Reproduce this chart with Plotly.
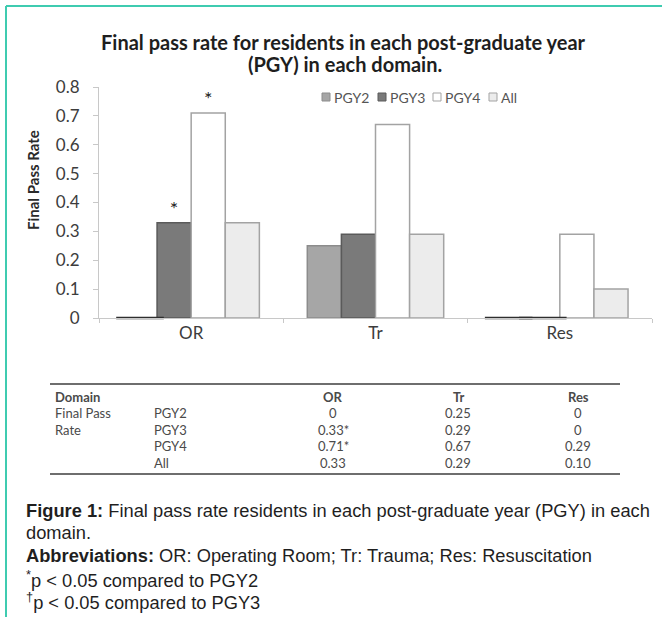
import plotly.graph_objects as go

W, H = 662, 617

# ---- data -------------------------------------------------------------
domains = ["OR", "Tr", "Res"]
series = ["PGY2", "PGY3", "PGY4", "All"]
pgy2 = [0.0, 0.25, 0.0]
pgy3 = [0.33, 0.29, 0.0]
pgy4 = [0.71, 0.67, 0.29]
all_res = [0.33, 0.29, 0.10]
sig_pgy2 = ["", "", ""]
sig_pgy3 = ["*", "", ""]
sig_pgy4 = ["*", "", ""]
sig_all = ["", "", ""]
y_ticks = [0, 0.1, 0.2, 0.3, 0.4, 0.5, 0.6, 0.7, 0.8]
y_tick_text = ["0", "0.1", "0.2", "0.3", "0.4", "0.5", "0.6", "0.7", "0.8"]

values = [pgy2, pgy3, pgy4, all_res]
sigs = [sig_pgy2, sig_pgy3, sig_pgy4, sig_all]

# ---- styles -----------------------------------------------------------
fills = ["#a6a6a6", "#7a7a7a", "#ffffff", "#ececec"]
edges = ["#8c8c8c", "#5a5a5a", "#a3a3a3", "#a3a3a3"]
TXT = "#3c3c3c"
CHART_FONT = "Lato"
CAP_FONT = "Liberation Sans"


def px(x):
    return x / W


def py(y):
    return 1 - y / H


def label(x, y, text, font, xanchor="center", **kw):
    return dict(x=px(x), y=py(y), xref="paper", yref="paper", showarrow=False,
                xanchor=xanchor, yanchor="middle", text=text, font=font, **kw)


fig = go.Figure()

for name, vals, sg, fc, ec in zip(series, values, sigs, fills, edges):
    fig.add_trace(go.Bar(
        x=domains, y=vals, name=name, offsetgroup=name,
        marker=dict(color=fc, line=dict(color=ec, width=1.5)),
        text=sg, textposition="outside", cliponaxis=False,
        textfont=dict(family=CHART_FONT, size=20, color="#222"),
        showlegend=False,
    ))

# zero-valued results are drawn as a dark rule at the baseline
for name, vals in zip(series, values):
    fig.add_trace(go.Scatter(
        x=domains, y=[0 if v == 0 else None for v in vals],
        mode="markers", offsetgroup=name, showlegend=False,
        marker=dict(symbol="line-ew", size=34,
                    line=dict(color="#2e2e2e", width=2.5)),
        cliponaxis=False, hoverinfo="skip",
    ))

fig.update_layout(
    width=W, height=H,
    margin=dict(l=0, r=0, t=0, b=0, autoexpand=False),
    showlegend=False,
    paper_bgcolor="white", plot_bgcolor="white",
    barmode="group", bargap=0.26, bargroupgap=0,
    scattermode="group", scattergap=0.26,
    xaxis=dict(
        domain=[px(99), px(652)], type="category", automargin=False,
        showline=True, linecolor="#c8c8c8", linewidth=1,
        ticks="outside", tickson="boundaries", ticklen=4, tickcolor="#c8c8c8",
        tickfont=dict(family=CHART_FONT, size=17, color=TXT),
        showgrid=False, zeroline=False,
    ),
    yaxis=dict(
        domain=[py(318), py(87)], range=[0, 0.8], automargin=False,
        tickvals=y_ticks, ticktext=y_tick_text,
        showline=True, linecolor="#c8c8c8", linewidth=1,
        ticks="outside", ticklen=5, tickcolor="#c8c8c8",
        ticklabelstandoff=10,
        tickfont=dict(family=CHART_FONT, size=17, color=TXT),
        showgrid=False, zeroline=False,
    ),
)

ann = []
shapes = []

# title
title_font = dict(family=CHART_FONT, size=20, color="#1e1e1e")
ann.append(label(343, 42, "<b>Final pass rate for residents in each post-graduate year</b>", title_font))
ann.append(label(345, 64, "<b>(PGY) in each domain.</b>", title_font))

# y-axis title
ann.append(label(33, 180, "<b>Final Pass Rate</b>",
                 dict(family=CHART_FONT, size=15, color="#2a2a2a"), textangle=-90))

# legend row
leg_x = [322, 378, 433, 489]
for name, fc, ec, lx in zip(series, fills, edges, leg_x):
    shapes.append(dict(type="rect", xref="paper", yref="paper",
                       x0=px(lx), x1=px(lx + 8), y0=py(101), y1=py(93),
                       fillcolor=fc, line=dict(color=ec, width=1)))
    ann.append(label(lx + 10, 97, name,
                     dict(family=CHART_FONT, size=14, color="#555"), xanchor="left"))

# data table below the chart
tab_left, tab_right = 50, 620
col_x = [333, 458, 578]
row_y = [397, 413, 430, 446, 463]
for ly in (384, 474):
    shapes.append(dict(type="line", xref="paper", yref="paper",
                       x0=px(tab_left), x1=px(tab_right), y0=py(ly), y1=py(ly),
                       line=dict(color="#6e6e6e", width=2)))
tf = dict(family=CHART_FONT, size=13, color="#4a4a4a")
ann.append(label(53, row_y[0], "<b>Domain</b>", tf, xanchor="left"))
for d, cx in zip(domains, col_x):
    ann.append(label(cx, row_y[0], f"<b>{d}</b>", tf))
ann.append(label(53, row_y[1], "Final Pass", tf, xanchor="left"))
ann.append(label(53, row_y[2], "Rate", tf, xanchor="left"))


def fmt(v):
    return "0" if v == 0 else f"{v:.2f}"


for name, vals, sg, ry in zip(series, values, sigs, row_y[1:]):
    ann.append(label(152, ry, name, tf, xanchor="left"))
    for v, s, cx in zip(vals, sg, col_x):
        ann.append(label(cx, ry, fmt(v) + s, tf))

# caption
cf = dict(family=CAP_FONT, size=18.3, color="#1f1f1f")
caption = [
    (510, "<b>Figure 1:</b> Final pass rate residents in each post-graduate year (PGY) in each"),
    (532, "domain."),
    (555, "<b>Abbreviations:</b> OR: Operating Room; Tr: Trauma; Res: Resuscitation"),
    (579, "<sup>*</sup>p &lt; 0.05 compared to PGY2"),
    (601, "<sup>†</sup>p &lt; 0.05 compared to PGY3"),
]
for cy, t in caption:
    ann.append(label(24, cy, t, cf, xanchor="left"))

# frame rules on the left and top edges
shapes.append(dict(type="line", xref="paper", yref="paper",
                   x0=px(6), x1=px(6), y0=0, y1=py(6),
                   line=dict(color="#3fcbb0", width=2)))
shapes.append(dict(type="line", xref="paper", yref="paper",
                   x0=px(6), x1=1, y0=py(6), y1=py(6),
                   line=dict(color="#3fcbb0", width=2)))

fig.update_layout(annotations=ann, shapes=shapes)
fig.write_html("out.html")
